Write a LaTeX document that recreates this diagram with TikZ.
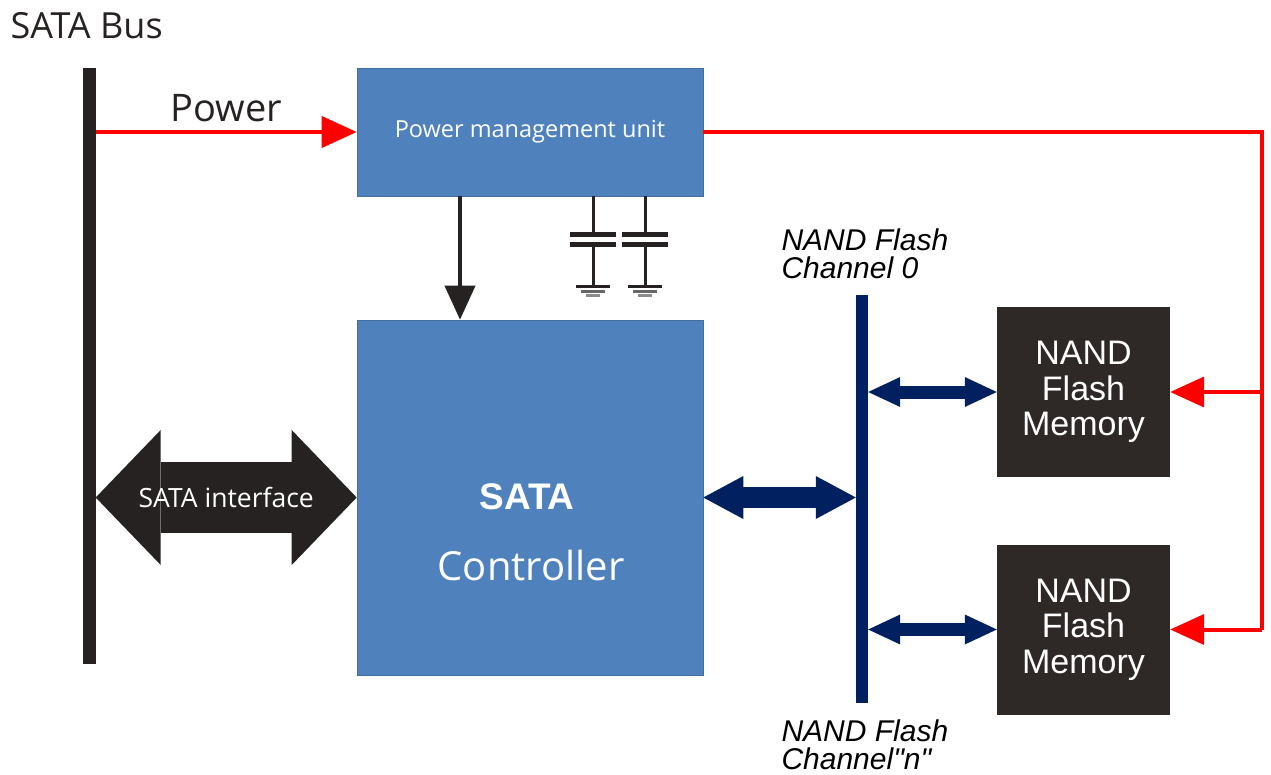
\documentclass[tikz,border=0pt]{standalone}
\usepackage{fontspec}
\setmainfont{Open Sans}
\newfontfamily\arialfont{Liberation Sans}
\usetikzlibrary{arrows.meta}

\definecolor{boxblue}{RGB}{79,129,189}
\definecolor{chipgray}{RGB}{46,41,39}
\definecolor{busgray}{RGB}{38,34,33}
\definecolor{navy}{RGB}{0,32,96}

\newcommand{\fsz}[1]{\fontsize{#1}{#1}\selectfont}

\tikzset{
    blk/.style={rectangle, fill=boxblue, draw=boxblue!85!black, line width=0.6pt, inner sep=0pt, text=white},
    chip/.style={rectangle, fill=chipgray, inner sep=0pt, text=white, align=center,
        minimum width=173pt, minimum height=170pt, font=\arialfont\fontsize{34}{35.5}\selectfont},
    bar/.style={rectangle, inner sep=0pt, minimum width=12pt},
    pwr/.style={draw=red, line width=4pt},
    chan/.style={anchor=west, align=left, font=\arialfont\itshape\fontsize{30}{28.5}\selectfont}
}

\begin{document}
\begin{tikzpicture}[x=1pt, y=-1pt]
    \useasboundingbox (0,0) rectangle (1271,775);

    \draw (7,26) node[anchor=west, font=\fsz{36}, text=busgray] (title) {SATA Bus};

    % buses
    \draw (89,366) node[bar, fill=busgray, minimum width=13pt, minimum height=596pt] (sbus) {};
    \draw (862,499) node[bar, fill=navy, minimum height=408pt] (chbus) {};

    % blocks
    \draw (530,132) node[blk, minimum width=346pt, minimum height=128pt, font=\fsz{23.5}] (pmu) {Power management unit};
    \draw (530,497.5) node[blk, minimum width=346pt, minimum height=355pt] (ctrl) {};
    \draw (527,497) node[text=white, font=\arialfont\bfseries\fsz{37}] (ctrla) {SATA};
    \draw (531,565) node[text=white, font=\fsz{40}] (ctrlb) {Controller};

    \draw (1083.5,392) node[chip] (nand1) {NAND\\Flash\\Memory};
    \draw (1083.5,629.5) node[chip] (nand2) {NAND\\Flash\\Memory};

    \draw (778,254) node[chan] (ch0) {NAND Flash\\Channel 0};
    \draw (778,745) node[chan] (chn) {NAND Flash\\Channel"n"};

    % power
    \coordinate (rail) at (1262,0);
    \draw[pwr, -{Triangle[length=35pt,width=31pt]}] (sbus.east |- pmu.west) -- (pmu.west)
        node[midway, above=5pt, text=busgray, font=\fsz{38}] (pwrlbl) {Power};
    \draw[pwr, line join=miter] (pmu.east) -| (rail |- nand2.east);
    \draw[pwr, -{Triangle[length=34pt,width=30pt]}] (rail |- nand1.east) -- (nand1.east);
    \draw[pwr, -{Triangle[length=34pt,width=30pt]}] (rail |- nand2.east) -- (nand2.east);

    \draw[busgray, line width=4pt, -{Triangle[length=34pt,width=30pt]}]
        ([xshift=-70pt]pmu.south) -- ([xshift=-70pt]ctrl.north);

    % capacitors
    \foreach \x in {593,645} {
        \draw[busgray, line width=3pt] (\x,196) -- (\x,235) (\x,245) -- (\x,287);
        \draw[busgray, line width=5pt] (\x-23,235) -- (\x+23,235) (\x-23,245) -- (\x+23,245);
        \draw[busgray, line width=3pt] (\x-17,287) -- (\x+17,287);
        \draw[black!60, line width=3pt] (\x-12,291.5) -- (\x+12,291.5);
        \draw[black!45, line width=3pt] (\x-7,296) -- (\x+7,296);
    }

    % data paths
    \draw[busgray, line width=71pt,
        {Triangle[length=65pt,width=135pt,line width=0pt]}-{Triangle[length=65pt,width=135pt,line width=0pt]}]
        (sbus.east |- ctrl.west) -- (ctrl.west)
        node[midway, text=white, font=\fsz{26.5}] (ifc) {SATA interface};
    \draw[navy, line width=21pt,
        {Triangle[length=40pt,width=43pt,line width=0pt]}-{Triangle[length=40pt,width=43pt,line width=0pt]}]
        (ctrl.east) -- (chbus.west |- ctrl.east);
    \draw[navy, line width=13pt,
        {Triangle[length=32pt,width=30pt,line width=0pt]}-{Triangle[length=32pt,width=30pt,line width=0pt]}]
        (chbus.east |- nand1.west) -- (nand1.west);
    \draw[navy, line width=13pt,
        {Triangle[length=32pt,width=30pt,line width=0pt]}-{Triangle[length=32pt,width=30pt,line width=0pt]}]
        (chbus.east |- nand2.west) -- (nand2.west);
\end{tikzpicture}
\end{document}
